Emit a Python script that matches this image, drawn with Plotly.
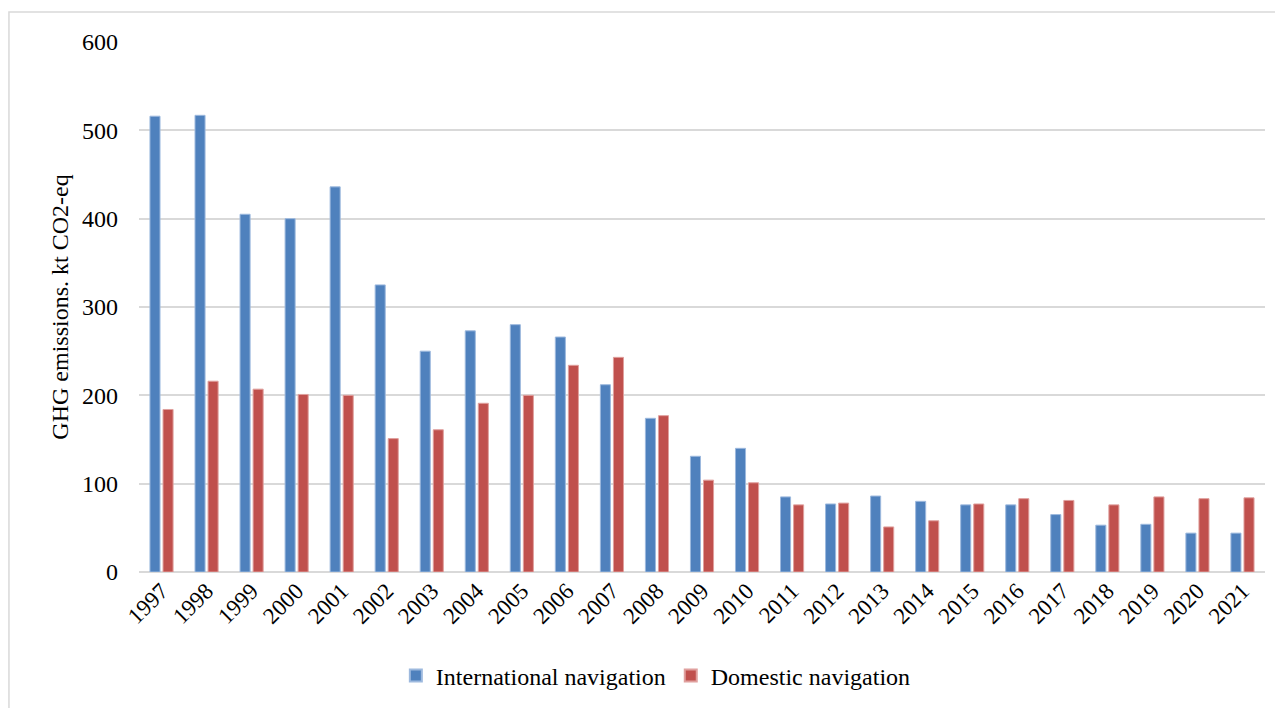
import plotly.graph_objects as go

years = [str(y) for y in range(1997, 2022)]
international = [516, 517, 405, 400, 436, 325, 250, 273, 280, 266, 212, 174, 131, 140,
                 85, 77, 86, 80, 76, 76, 65, 53, 54, 44, 44]
domestic = [184, 216, 207, 201, 200, 151, 161, 191, 200, 234, 243, 177, 104, 101,
            76, 78, 51, 58, 77, 83, 81, 76, 85, 83, 84]

FONT = "Times New Roman, Liberation Serif, DejaVu Serif, serif"

fig = go.Figure()
fig.add_trace(go.Bar(x=years, y=international, name="International navigation",
                     marker=dict(color="#4F81BD", line=dict(color="#9DB9DE", width=1))))
fig.add_trace(go.Bar(x=years, y=domestic, name="Domestic navigation",
                     marker=dict(color="#C0504D", line=dict(color="#E0A09E", width=1))))

fig.update_layout(
    width=1283, height=708,
    margin=dict(l=131, r=26, t=34, b=144, autoexpand=False),
    paper_bgcolor="white", plot_bgcolor="white",
    font=dict(family=FONT, size=24, color="#000000"),
    barmode="group", bargap=0.42, bargroupgap=0.23,
    showlegend=True,
    legend=dict(orientation="h", x=0.459, xanchor="center", y=-0.196, yanchor="middle",
                font=dict(family=FONT, size=24), traceorder="normal",
                itemwidth=30, itemsizing="constant"),
    xaxis=dict(tickangle=-45, tickfont=dict(family=FONT, size=23), showgrid=False,
               showline=False, ticks="", automargin=False),
    yaxis=dict(range=[0, 600], dtick=100, showgrid=True, gridcolor="#D9D9D9", gridwidth=1.5,
               zeroline=True, zerolinecolor="#D9D9D9", zerolinewidth=1.5,
               tickfont=dict(family=FONT, size=24), ticklabelstandoff=20, automargin=False,
               title=dict(text="GHG emissions. kt CO2-eq", font=dict(family=FONT, size=24),
                          standoff=6)),
    shapes=[dict(type="rect", xref="paper", yref="paper",
                 x0=-0.1155, x1=1.03, y0=-0.3, y1=1.0566,
                 line=dict(color="#D9D9D9", width=1.5), fillcolor="rgba(0,0,0,0)", layer="below")],
)

fig.write_html("out.html")
